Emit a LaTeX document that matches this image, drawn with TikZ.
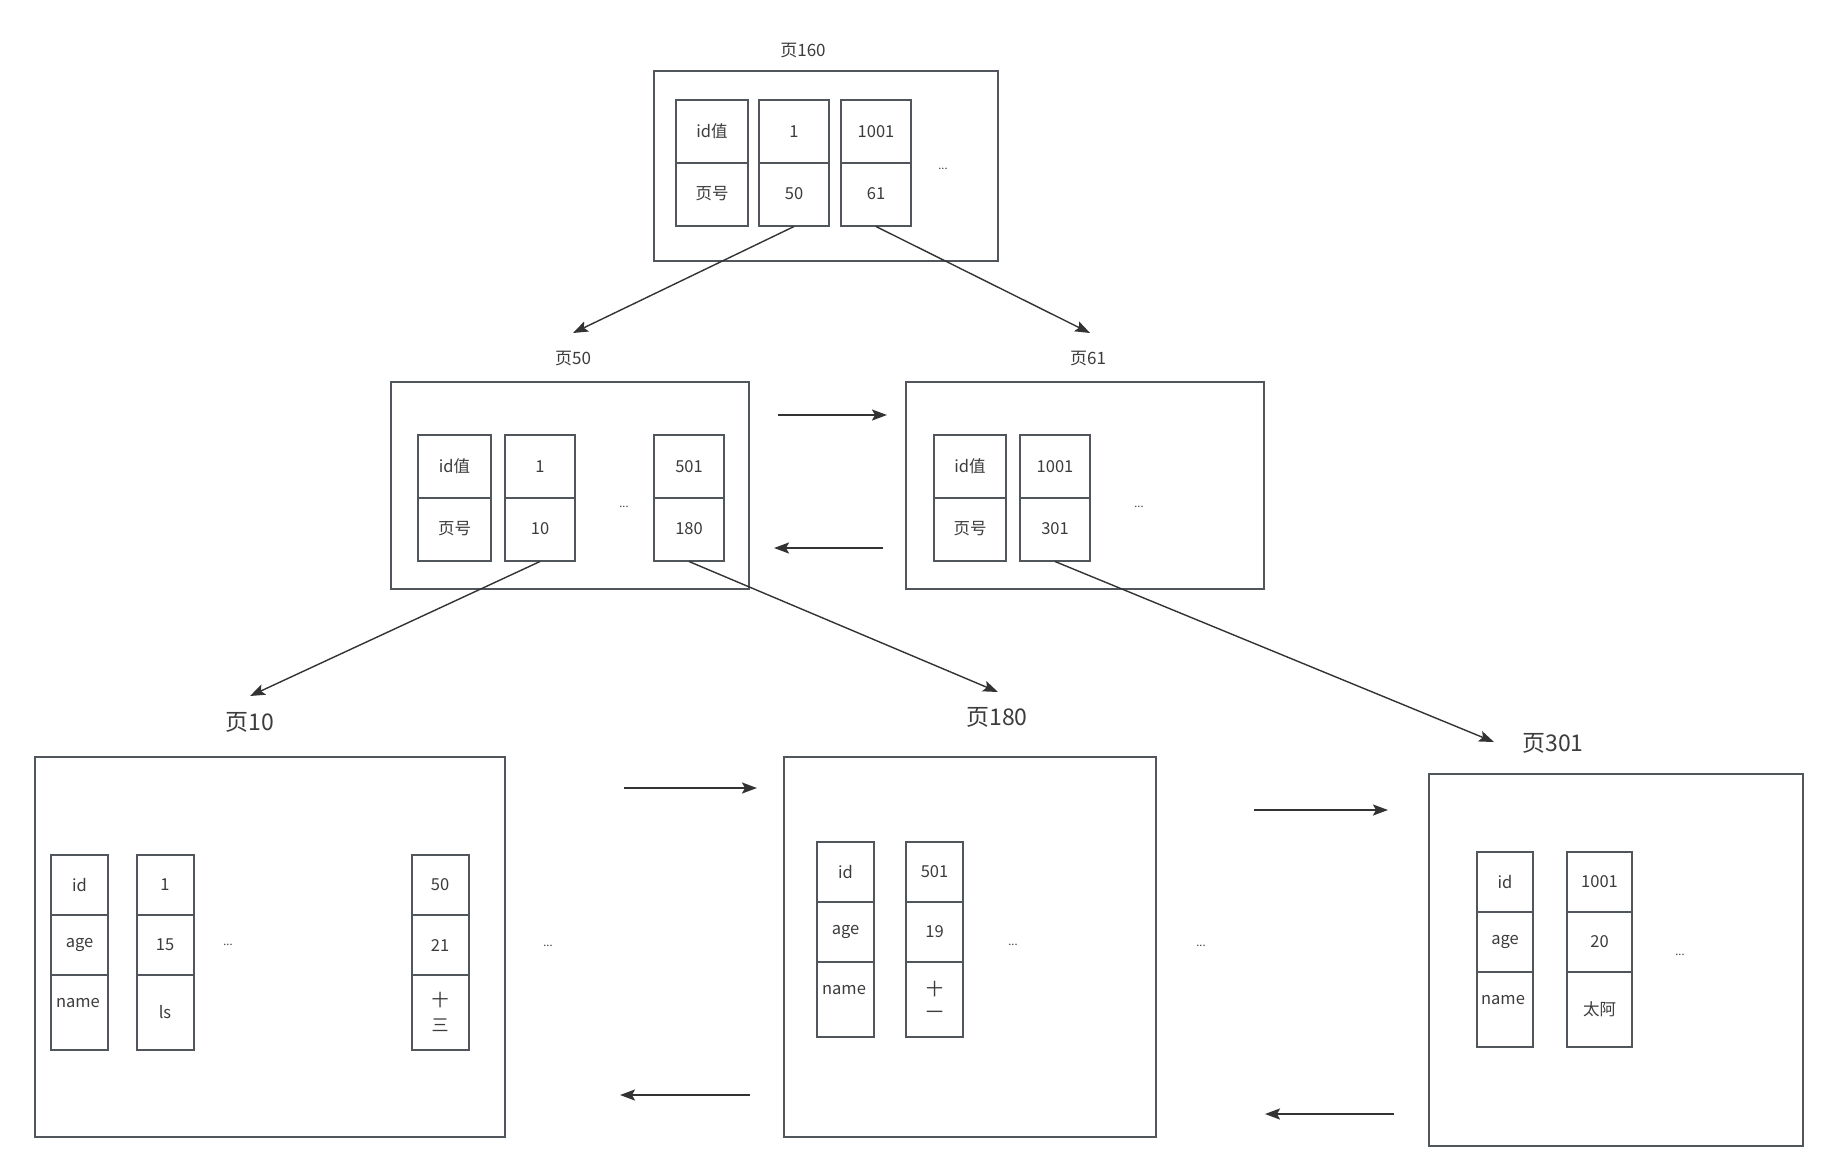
\documentclass[tikz,border=0pt]{standalone}
\usepackage{fontspec}
\setmainfont{Noto Sans CJK SC}
\usetikzlibrary{arrows.meta}
\definecolor{edgec}{HTML}{50565C}
\definecolor{txtc}{HTML}{3C3C3C}
\definecolor{arrc}{HTML}{333333}
\begin{document}
\begin{tikzpicture}[x=1pt,y=-1pt,
  pagebox/.style={draw=edgec, line width=2pt, inner sep=0pt},
  cell/.style={draw=edgec, line width=2pt, inner sep=0pt, text=txtc, font=\fontsize{16.5}{18}\selectfont},
  tcell/.style={cell, minimum width=72, minimum height=63},
  bcell/.style={cell, minimum width=57, minimum height=60},
  ncell/.style={cell, minimum width=57, minimum height=75},
  txt/.style={text=txtc, inner sep=0pt, font=\fontsize{16.5}{18}\selectfont},
  smalllbl/.style={text=txtc, inner sep=0pt, font=\fontsize{17}{19}\selectfont},
  biglbl/.style={text=txtc, inner sep=0pt, font=\fontsize{23}{26}\selectfont},
  dots/.style={text=txtc, inner sep=0pt, font=\fontsize{11}{12}\selectfont},
  arr/.style={draw=arrc, line width=1.4pt, -{Stealth[length=15pt,width=11pt,inset=3pt]}},
  harr/.style={draw=arrc, line width=2pt, -{Stealth[length=15pt,width=11pt,inset=3pt]}}
]
\useasboundingbox (0,0) rectangle (1826,1171);
\fill[white] (0,0) rectangle (1826,1171);

% ---------- page 160 ----------
\node[pagebox, minimum width=344, minimum height=190] (p160) at (826,166) {};
\node[smalllbl] (l160) at (803,51) {页160};
\node[tcell] (t1a) at (712,131.5) {id值};
\node[tcell] (t1b) at (712,194) {页号};
\node[tcell, minimum width=70] (t2a) at (794,131.5) {1};
\node[tcell, minimum width=70] (t2b) at (794,194) {50};
\node[tcell, minimum width=70] (t3a) at (876,131.5) {1001};
\node[tcell, minimum width=70] (t3b) at (876,194) {61};
\node[dots] (d160) at (943,169) {...};

% ---------- page 50 ----------
\node[pagebox, minimum width=358, minimum height=207] (p50) at (570,485.5) {};
\node[smalllbl] (l50) at (573,359) {页50};
\node[tcell, minimum width=73] (m1a) at (454.5,466.5) {id值};
\node[tcell, minimum width=73] (m1b) at (454.5,529) {页号};
\node[tcell, minimum width=70] (m2a) at (540,466.5) {1};
\node[tcell, minimum width=70] (m2b) at (540,529) {10};
\node[tcell, minimum width=70] (m3a) at (689,466.5) {501};
\node[tcell, minimum width=70] (m3b) at (689,529) {180};
\node[dots] (d50) at (624,507) {...};

% ---------- page 61 ----------
\node[pagebox, minimum width=358, minimum height=207] (p61) at (1085,485.5) {};
\node[smalllbl] (l61) at (1088,359) {页61};
\node[tcell, minimum width=72] (n1a) at (970,466.5) {id值};
\node[tcell, minimum width=72] (n1b) at (970,529) {页号};
\node[tcell, minimum width=70] (n2a) at (1055,466.5) {1001};
\node[tcell, minimum width=70] (n2b) at (1055,529) {301};
\node[dots] (d61) at (1139,507) {...};

% ---------- page 10 ----------
\node[pagebox, minimum width=470, minimum height=380] (p10) at (270,947) {};
\node[biglbl] (l10) at (250,722) {页10};
\node[bcell] (a1a) at (79.5,885) {id};
\node[bcell] (a1b) at (79.5,945) {age};
\node[ncell] (a1c) at (79.5,1012) {};
\node[txt] (a1ct) at (78,1003) {name};
\node[bcell] (a2a) at (165,885) {1};
\node[bcell] (a2b) at (165,945) {15};
\node[ncell] (a2c) at (165,1012) {ls};
\node[bcell] (a3a) at (440,885) {50};
\node[bcell] (a3b) at (440,945) {21};
\node[ncell, align=center, font=\fontsize{17}{25}\selectfont] (a3c) at (440,1012) {十\\三};
\node[dots] (d10) at (228,945) {...};

\node[dots] (dmid1) at (548,946) {...};

% ---------- page 180 ----------
\node[pagebox, minimum width=372, minimum height=380] (p180) at (970,947) {};
\node[biglbl] (l180) at (997,717) {页180};
\node[bcell] (b1a) at (845.5,872) {id};
\node[bcell] (b1b) at (845.5,932) {age};
\node[ncell] (b1c) at (845.5,999.5) {};
\node[txt] (b1ct) at (844,990) {name};
\node[bcell] (b2a) at (934.5,872) {501};
\node[bcell] (b2b) at (934.5,932) {19};
\node[ncell, align=center, font=\fontsize{17}{23}\selectfont] (b2c) at (934.5,999.5) {十\\一};
\node[dots] (d180) at (1013,945) {...};

\node[dots] (dmid2) at (1201,946) {...};

% ---------- page 301 ----------
\node[pagebox, minimum width=374, minimum height=372] (p301) at (1616,960) {};
\node[biglbl] (l301) at (1553,743) {页301};
\node[bcell, minimum width=56] (c1a) at (1505,882) {id};
\node[bcell, minimum width=56] (c1b) at (1505,942) {age};
\node[ncell, minimum width=56] (c1c) at (1505,1009.5) {};
\node[txt] (c1ct) at (1503,1000) {name};
\node[bcell, minimum width=65] (c2a) at (1599.5,882) {1001};
\node[bcell, minimum width=65] (c2b) at (1599.5,942) {20};
\node[ncell, minimum width=65] (c2c) at (1599.5,1009.5) {太阿};
\node[dots] (d301) at (1680,955) {...};

% ---------- arrow end points ----------
\coordinate (e50) at (573,333);
\coordinate (e61) at (1090,333);
\coordinate (e10) at (250,696);
\coordinate (e180) at (998,692);
\coordinate (e301) at (1494,742);

\coordinate (h1s) at (778,415);  \coordinate (h1e) at (887,415);
\coordinate (h2s) at (883,548);  \coordinate (h2e) at (774,548);
\coordinate (h3s) at (624,788);  \coordinate (h3e) at (757,788);
\coordinate (h4s) at (750,1095); \coordinate (h4e) at (620,1095);
\coordinate (h5s) at (1254,810); \coordinate (h5e) at (1388,810);
\coordinate (h6s) at (1394,1114);\coordinate (h6e) at (1265,1114);

% ---------- connectors ----------
\draw[arr] (t2b.south) -- (e50);
\draw[arr] (t3b.south) -- (e61);
\draw[arr] (m2b.south) -- (e10);
\draw[arr] (m3b.south) -- (e180);
\draw[arr] (n2b.south) -- (e301);

\draw[harr] (h1s) -- (h1e);
\draw[harr] (h2s) -- (h2e);
\draw[harr] (h3s) -- (h3e);
\draw[harr] (h4s) -- (h4e);
\draw[harr] (h5s) -- (h5e);
\draw[harr] (h6s) -- (h6e);
\end{tikzpicture}
\end{document}
